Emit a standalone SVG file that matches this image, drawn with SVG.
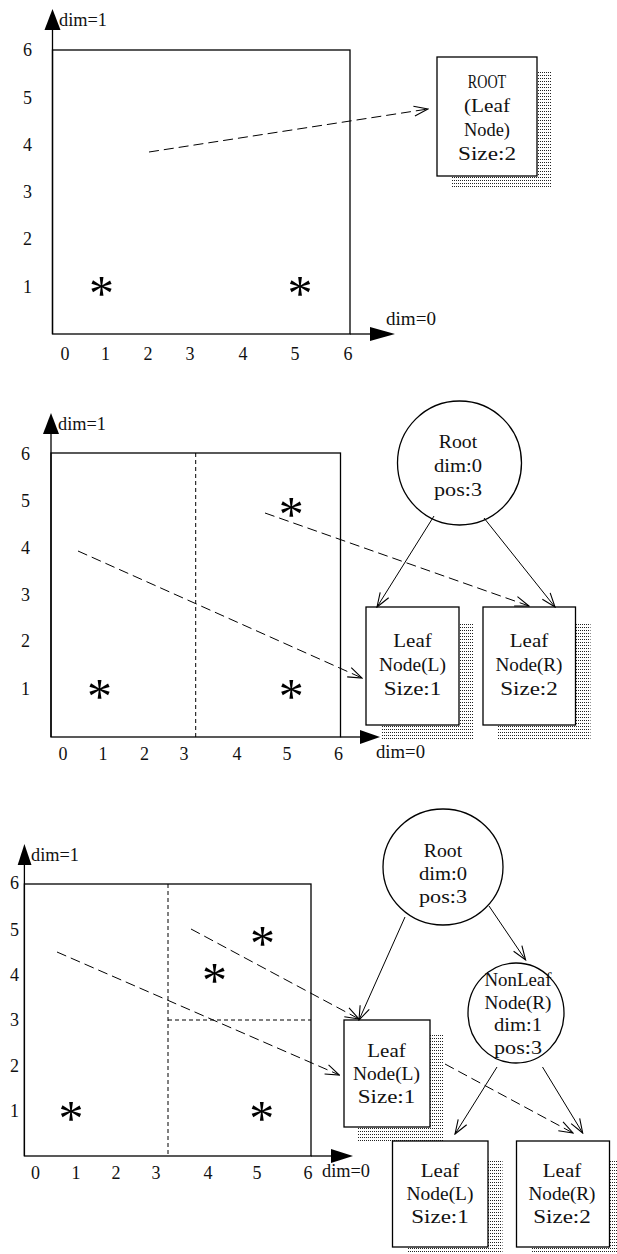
<svg xmlns="http://www.w3.org/2000/svg" width="617" height="1254" viewBox="0 0 617 1254">
<defs>
<pattern id="hatch" width="2" height="3" patternUnits="userSpaceOnUse"><rect width="1" height="1" fill="#222"/></pattern>
<marker id="open" viewBox="0 0 16 12" refX="15" refY="6" markerWidth="16" markerHeight="12" markerUnits="userSpaceOnUse" orient="auto"><path d="M1,1 L15,6 L1,11" fill="none" stroke="#000" stroke-width="1.1" stroke-dasharray="none"/></marker>
</defs>
<style>
text{font-family:"Liberation Serif","Times New Roman",serif;font-size:18px;fill:#111}
.c{text-anchor:middle}
.box{fill:#fff;stroke:#000;stroke-width:1.3}
.sh{fill:url(#hatch)}
.ax{fill:none;stroke:#000;stroke-width:1.3}
.tri{fill:#000}
.part{fill:none;stroke:#000;stroke-width:1;stroke-dasharray:4 3}
.dl{fill:none;stroke:#000;stroke-width:1;stroke-dasharray:10 5;marker-end:url(#open)}
.sl{fill:none;stroke:#000;stroke-width:1;marker-end:url(#open)}
.star{font-size:50px;text-anchor:middle;fill:#000}
</style>
<rect width="617" height="1254" fill="#fff"/>

<!-- Panel 1 plot -->
<g id="plot1">
<rect class="ax" x="52.5" y="50" width="297.5" height="284"/>
<line class="ax" x1="52.5" y1="30" x2="52.5" y2="334"/>
<polygon class="tri" points="52.5,9 44.5,30 60.5,30"/>
<line class="ax" x1="350" y1="334" x2="370" y2="334"/>
<polygon class="tri" points="370,327 370,341 395,334"/>
<text x="59" y="26" textLength="48" lengthAdjust="spacingAndGlyphs">dim=1</text>
<text x="386" y="325" textLength="50" lengthAdjust="spacingAndGlyphs">dim=0</text>
<g class="c">
<text x="27.5" y="56">6</text><text x="27.5" y="104">5</text><text x="27.5" y="151">4</text>
<text x="27.5" y="198">3</text><text x="27.5" y="245">2</text><text x="27.5" y="293">1</text>
<text x="65" y="360">0</text><text x="105.5" y="360">1</text><text x="148" y="360">2</text>
<text x="190" y="360">3</text><text x="243" y="360">4</text><text x="295" y="360">5</text><text x="348" y="360">6</text>
</g>
<text class="star" x="101.5" y="309.5">*</text>
<text class="star" x="300" y="310">*</text>
</g>

<!-- Panel 2 plot -->
<g id="plot2">
<rect class="ax" x="51" y="453" width="289.5" height="284"/>
<line class="ax" x1="51" y1="434" x2="51" y2="737"/>
<polygon class="tri" points="51,413 43,434 59,434"/>
<line class="ax" x1="340.5" y1="737" x2="360" y2="737"/>
<polygon class="tri" points="360,730 360,744 380,737"/>
<line class="part" x1="195.7" y1="453" x2="195.7" y2="737"/>
<text x="58" y="430" textLength="48" lengthAdjust="spacingAndGlyphs">dim=1</text>
<text x="376" y="758" textLength="49" lengthAdjust="spacingAndGlyphs">dim=0</text>
<g class="c">
<text x="25.6" y="460">6</text><text x="25.6" y="507">5</text><text x="25.6" y="554">4</text>
<text x="25.6" y="601">3</text><text x="25.6" y="647">2</text><text x="25.6" y="695">1</text>
<text x="63" y="760">0</text><text x="103" y="760">1</text><text x="144.5" y="760">2</text>
<text x="184" y="760">3</text><text x="237" y="760">4</text><text x="287" y="760">5</text><text x="338.6" y="760">6</text>
</g>
<text class="star" x="291.3" y="531">*</text>
<text class="star" x="99.6" y="712.5">*</text>
<text class="star" x="291.3" y="712.5">*</text>
</g>

<!-- Panel 3 plot -->
<g id="plot3">
<rect class="ax" x="24.4" y="884" width="286.6" height="272"/>
<line class="ax" x1="24.4" y1="865" x2="24.4" y2="1156"/>
<polygon class="tri" points="24.4,844 17.7,865 31.5,865"/>
<line class="ax" x1="311" y1="1156" x2="331" y2="1156"/>
<polygon class="tri" points="331,1149 331,1163 353,1156"/>
<line class="part" x1="168" y1="884" x2="168" y2="1156"/>
<line class="part" x1="168" y1="1020" x2="311" y2="1020"/>
<text x="31" y="861" textLength="48" lengthAdjust="spacingAndGlyphs">dim=1</text>
<text x="322" y="1177" textLength="48" lengthAdjust="spacingAndGlyphs">dim=0</text>
<g class="c">
<text x="14.6" y="889">6</text><text x="14.6" y="936">5</text><text x="14.6" y="981">4</text>
<text x="14.6" y="1026">3</text><text x="14.6" y="1072">2</text><text x="14.6" y="1117">1</text>
<text x="35.4" y="1179">0</text><text x="76" y="1179">1</text><text x="116" y="1179">2</text>
<text x="156" y="1179">3</text><text x="208" y="1179">4</text><text x="257" y="1179">5</text><text x="308" y="1179">6</text>
</g>
<text class="star" x="262.6" y="959.5">*</text>
<text class="star" x="214.6" y="997">*</text>
<text class="star" x="70.9" y="1134.5">*</text>
<text class="star" x="261.8" y="1134.5">*</text>
</g>

<!-- Nodes -->
<g id="root1">
<rect class="sh" x="452" y="72" width="100" height="116"/>
<rect class="box" x="437" y="57" width="100" height="119"/>
<g class="c">
<text x="487" y="88" textLength="38.4" lengthAdjust="spacingAndGlyphs">ROOT</text>
<text x="487" y="112" textLength="46" lengthAdjust="spacingAndGlyphs">(Leaf</text>
<text x="487" y="136" textLength="46" lengthAdjust="spacingAndGlyphs">Node)</text>
<text x="487" y="160" textLength="58" lengthAdjust="spacingAndGlyphs">Size:2</text>
</g>
</g>

<g id="root2">
<circle cx="459.5" cy="463" r="62" fill="#fff" stroke="#000" stroke-width="1.3"/>
<g class="c">
<text x="458" y="448" textLength="38.4" lengthAdjust="spacingAndGlyphs">Root</text>
<text x="458" y="472" textLength="48" lengthAdjust="spacingAndGlyphs">dim:0</text>
<text x="458" y="496" textLength="48" lengthAdjust="spacingAndGlyphs">pos:3</text>
</g>
</g>

<g id="leafL2">
<rect class="sh" x="381" y="622" width="93" height="118"/>
<rect class="box" x="366" y="607" width="93" height="118"/>
<g class="c">
<text x="412.5" y="647" textLength="38.4" lengthAdjust="spacingAndGlyphs">Leaf</text>
<text x="412.5" y="671" textLength="67" lengthAdjust="spacingAndGlyphs">Node(L)</text>
<text x="412.5" y="695" textLength="57.6" lengthAdjust="spacingAndGlyphs">Size:1</text>
</g>
</g>

<g id="leafR2">
<rect class="sh" x="498" y="622" width="92.5" height="118"/>
<rect class="box" x="483" y="607" width="92.5" height="118"/>
<g class="c">
<text x="529" y="647" textLength="38.4" lengthAdjust="spacingAndGlyphs">Leaf</text>
<text x="529" y="671" textLength="67" lengthAdjust="spacingAndGlyphs">Node(R)</text>
<text x="529" y="695" textLength="57.6" lengthAdjust="spacingAndGlyphs">Size:2</text>
</g>
</g>

<g id="root3">
<ellipse cx="443" cy="867" rx="60" ry="58" fill="#fff" stroke="#000" stroke-width="1.3"/>
<g class="c">
<text x="443" y="857" textLength="38.4" lengthAdjust="spacingAndGlyphs">Root</text>
<text x="443" y="880" textLength="48" lengthAdjust="spacingAndGlyphs">dim:0</text>
<text x="443" y="903" textLength="48" lengthAdjust="spacingAndGlyphs">pos:3</text>
</g>
</g>

<g id="nonleafR3">
<ellipse cx="516" cy="1013" rx="48" ry="50" fill="#fff" stroke="#000" stroke-width="1.3"/>
<g class="c">
<text x="518" y="986" textLength="67" lengthAdjust="spacingAndGlyphs">NonLeaf</text>
<text x="518" y="1009" textLength="67" lengthAdjust="spacingAndGlyphs">Node(R)</text>
<text x="518" y="1031" textLength="48" lengthAdjust="spacingAndGlyphs">dim:1</text>
<text x="518" y="1054" textLength="48" lengthAdjust="spacingAndGlyphs">pos:3</text>
</g>
</g>

<g id="leafL3">
<rect class="sh" x="358" y="1035" width="86" height="107"/>
<rect class="box" x="344" y="1020" width="86" height="107"/>
<g class="c">
<text x="386.5" y="1057" textLength="38.4" lengthAdjust="spacingAndGlyphs">Leaf</text>
<text x="386.5" y="1080" textLength="67" lengthAdjust="spacingAndGlyphs">Node(L)</text>
<text x="386.5" y="1103" textLength="57.6" lengthAdjust="spacingAndGlyphs">Size:1</text>
</g>
</g>

<g id="leafLL3">
<rect class="sh" x="407" y="1159" width="95.5" height="106"/>
<rect class="box" x="392.5" y="1141" width="95.5" height="106"/>
<g class="c">
<text x="440" y="1177" textLength="38.4" lengthAdjust="spacingAndGlyphs">Leaf</text>
<text x="440" y="1200" textLength="67" lengthAdjust="spacingAndGlyphs">Node(L)</text>
<text x="440" y="1223" textLength="57.6" lengthAdjust="spacingAndGlyphs">Size:1</text>
</g>
</g>

<g id="leafRR3">
<rect class="sh" x="531" y="1159" width="93" height="106"/>
<rect class="box" x="516.5" y="1141" width="93" height="106"/>
<g class="c">
<text x="562" y="1177" textLength="38.4" lengthAdjust="spacingAndGlyphs">Leaf</text>
<text x="562" y="1200" textLength="67" lengthAdjust="spacingAndGlyphs">Node(R)</text>
<text x="562" y="1223" textLength="57.6" lengthAdjust="spacingAndGlyphs">Size:2</text>
</g>
</g>

<!-- Connectors -->
<g id="connectors">
<path class="dl" d="M149,152 L428,109"/>
<path class="sl" d="M434,516 L377,607"/>
<path class="sl" d="M484,518 L555,607"/>
<path class="dl" d="M78,551 L362,678"/>
<path class="dl" d="M265,513 L529,606"/>
<path class="sl" d="M405,917 L359,1020"/>
<path class="sl" d="M489,906 L525.6,960"/>
<path class="sl" d="M497,1067 L455,1134"/>
<path class="sl" d="M542.5,1067 L582.7,1133"/>
<path class="dl" d="M57,952 L339.4,1075"/>
<path class="dl" d="M191,929 L359,1019"/>
<path class="dl" d="M445,1064 L573,1133"/>
</g>
</svg>
